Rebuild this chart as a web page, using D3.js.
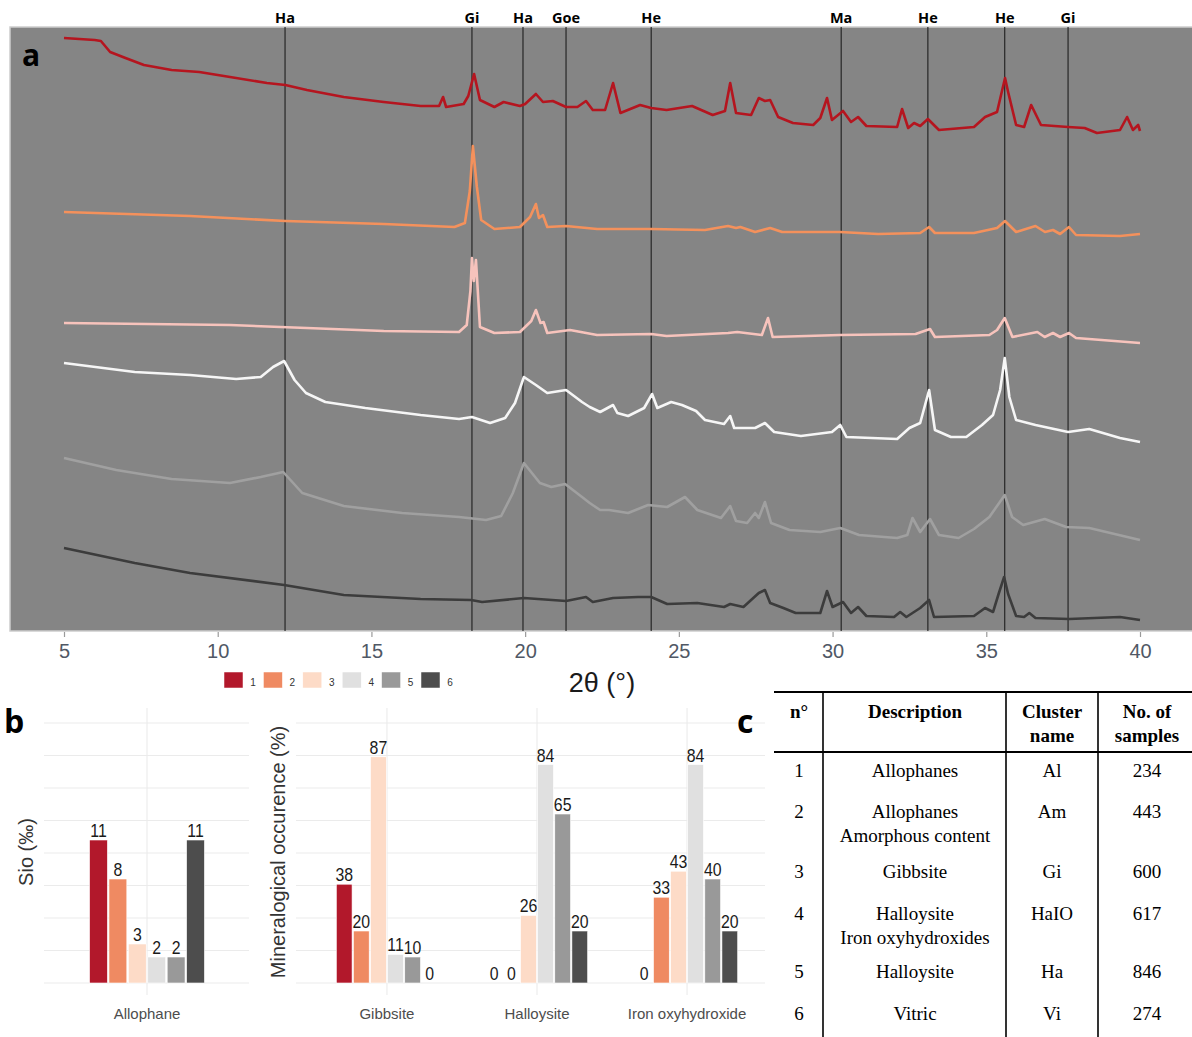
<!DOCTYPE html>
<html><head><meta charset="utf-8">
<script src="https://cdn.jsdelivr.net/npm/d3@7"></script>
<style>
body{margin:0;background:#fff;}
svg{display:block;}
</style></head>
<body>
<svg id="fig" width="1192" height="1037"></svg>
<script>
// ---------------- DATA ----------------
const clusters = ["1","2","3","4","5","6"];
const clusterColors = ["#b2182b","#ef8a62","#fddbc7","#e0e0e0","#999999","#4d4d4d"];
const lineColors = ["#b5151f","#f4915c","#f7c3bc","#f6f6f6","#a0a0a0","#3c3c3c"];

const thetaTicks = [5,10,15,20,25,30,35,40];
const markerLabels = ["Ha","Gi","Ha","Goe","He","Ma","He","He","Gi"];
const markerTheta = [12.19,18.27,19.93,21.33,24.1,30.28,33.1,35.6,37.66];

// XRD patterns: [2theta, stacked intensity (a.u.)]
const xrd1 = [[5.0,593],[5.5,592],[6.0,591],[6.2,590],[6.5,579],[7.0,573],[7.6,566],[8.5,561],[9.4,559],[10.4,554],[11.6,548],[12.2,546],[12.9,541],[14.1,534],[15.4,529],[16.6,525],[17.2,525],[17.33,534],[17.43,524],[18.0,527],[18.15,535],[18.34,557],[18.53,531],[19.0,524],[19.3,529],[19.83,525],[20.0,527],[20.35,537],[20.58,529],[20.9,530],[21.33,524],[21.7,524],[21.98,530],[22.2,521],[22.6,521],[22.86,548],[23.1,518],[23.74,526],[24.1,523],[24.6,521],[25.43,525],[26.1,516],[26.5,520],[26.67,548],[26.86,518],[27.35,516],[27.6,533],[27.8,530],[27.97,531],[28.23,514],[28.71,508],[29.37,506],[29.6,513],[29.82,533],[29.98,511],[30.34,520],[30.6,509],[30.83,514],[31.1,505],[32.1,504],[32.26,522],[32.46,503],[32.65,508],[32.85,505],[33.1,512],[33.46,501],[34.6,504],[34.96,514],[35.35,519],[35.61,553],[35.71,539],[35.97,506],[36.23,504],[36.46,526],[36.78,506],[37.66,504],[38.2,503],[38.6,498],[39.35,501],[39.58,514],[39.77,501],[39.94,506],[40.0,500]];
const xrd2 = [[5.0,419],[9.1,415],[12.2,410],[15.4,407],[17.7,404],[18.04,408],[18.2,440],[18.3,485],[18.43,444],[18.57,411],[19.0,402],[19.83,404],[20.16,414],[20.35,427],[20.45,413],[20.58,416],[20.72,404],[21.33,405],[22.34,402],[24.1,402],[25.85,401],[26.6,405],[26.86,403],[27.0,404],[27.48,399],[27.97,403],[28.36,399],[30.24,399],[31.48,397],[32.85,398],[33.14,404],[33.33,398],[34.6,398],[35.35,403],[35.61,410],[35.97,399],[36.6,405],[36.91,399],[37.17,401],[37.4,397],[37.69,404],[37.92,396],[39.35,395],[40.0,397]];
const xrd3 = [[5.0,308],[10.4,306],[12.9,303],[15.4,300],[17.85,299],[18.1,306],[18.22,340],[18.27,373],[18.33,350],[18.4,371],[18.53,304],[19.0,298],[19.83,299],[20.2,310],[20.35,321],[20.5,308],[20.6,309],[20.72,298],[21.46,301],[22.34,296],[24.1,297],[24.6,295],[26.6,298],[26.9,299],[27.7,296],[27.9,313],[28.05,294],[30.24,296],[32.7,297],[33.17,302],[33.33,294],[35.1,296],[35.35,301],[35.6,313],[35.85,294],[36.66,299],[36.9,294],[37.17,298],[37.4,294],[37.69,298],[37.92,293],[40.0,288]];
const xrd4 = [[5.0,268],[7.3,259],[9.1,256],[10.6,252],[11.4,254],[11.8,264],[12.16,270],[12.5,251],[12.87,238],[13.5,229],[14.8,223],[16.6,216],[17.85,212],[18.27,214],[18.86,208],[19.35,213],[19.67,228],[19.96,254],[20.35,246],[20.72,238],[21.33,241],[21.85,229],[22.1,224],[22.44,219],[22.86,226],[23.0,218],[23.35,215],[23.87,223],[24.13,237],[24.3,223],[24.75,229],[25.1,226],[25.56,220],[25.85,211],[26.47,207],[26.67,215],[26.8,203],[27.48,203],[27.8,208],[28.1,199],[28.97,195],[29.98,199],[30.25,206],[30.45,194],[32.1,192],[32.5,203],[32.85,208],[33.14,241],[33.33,201],[33.85,194],[34.35,194],[34.86,206],[35.22,216],[35.45,241],[35.6,273],[35.75,234],[35.97,211],[36.6,206],[37.66,199],[38.35,202],[39.35,193],[40.0,189]];
const xrd5 = [[5.0,173],[6.7,161],[8.5,152],[10.4,148],[11.4,154],[12.13,159],[12.75,138],[14.1,125],[16.0,118],[17.85,114],[18.73,111],[19.22,115],[19.6,138],[19.96,168],[20.48,148],[20.85,144],[21.3,147],[21.85,134],[22.1,128],[22.44,121],[22.73,121],[23.35,118],[24.0,126],[24.62,124],[25.2,134],[25.6,121],[26.37,113],[26.67,125],[26.86,110],[27.22,108],[27.48,118],[27.6,113],[27.8,129],[28.0,108],[28.6,101],[29.6,99],[30.25,103],[30.86,96],[32.1,93],[32.43,96],[32.6,113],[32.85,99],[33.17,112],[33.46,96],[34.1,93],[34.6,102],[35.1,114],[35.6,136],[35.84,114],[36.2,106],[36.9,112],[37.6,104],[38.35,103],[40.0,91]];
const xrd6 = [[5.0,83],[7.3,68],[9.1,58],[12.16,46],[14.1,36],[16.6,32],[18.24,31],[18.6,29],[19.96,33],[21.33,30],[21.98,34],[22.2,29],[22.86,33],[23.67,34],[24.1,34],[24.62,27],[25.6,28],[26.47,24],[26.67,27],[27.1,24],[27.6,38],[27.8,41],[27.97,28],[28.4,23],[28.8,18],[29.6,18],[29.82,40],[30.0,24],[30.34,29],[30.6,18],[30.83,24],[31.1,15],[32.0,14],[32.2,19],[32.4,14],[32.85,23],[33.14,31],[33.3,14],[34.6,15],[34.96,23],[35.22,19],[35.4,37],[35.58,54],[35.71,37],[35.97,15],[36.23,14],[36.4,18],[36.6,13],[37.7,12],[39.35,14],[40.0,11]];
const xrdSeries = [xrd1,xrd2,xrd3,xrd4,xrd5,xrd6];

// Panel b
const sioCategory = ["Allophane"];
const sioValues = [11, 8, 3, 2, 2, 11];
const sioTicks = [0,2.5,5,7.5,10,12.5,15,17.5,20];
const minerals = ["Gibbsite","Halloysite","Iron oxyhydroxide"];
const gibbsite = [38, 20, 87, 11, 10, 0];
const halloysite = [0, 0, 26, 84, 65, 20];
const ironOxy = [0, 33, 43, 84, 40, 20];
const occTicks = [0,12.5,25,37.5,50,62.5,75,87.5,100];

// Panel c table
const tableHeader = [["n°"],["Description"],["Cluster","name"],["No. of","samples"]];
const tableNo = ["1","2","3","4","5","6"];
const tableDesc = [["Allophanes"],["Allophanes","Amorphous content"],["Gibbsite"],["Halloysite","Iron oxyhydroxides"],["Halloysite"],["Vitric"]];
const tableName = ["Al","Am","Gi","HaIO","Ha","Vi"];
const tableCount = ["234","443","600","617","846","274"];

// ---------------- DRAW ----------------
const svg = d3.select("#fig");
const sans = "'Liberation Sans', Arial, sans-serif";

// ===== Panel a =====
const x = d3.scaleLinear().domain([5,40]).range([64,1140]);
const y = d3.scaleLinear().domain([0,604]).range([631,27]);

svg.append("rect").attr("x",10).attr("y",27).attr("width",1190).attr("height",604)
  .attr("fill","#858585").attr("stroke","#cdcdcd").attr("stroke-width",1.5);

const gMark = svg.append("g");
markerTheta.forEach((t,i)=>{
  gMark.append("line").attr("x1",x(t)).attr("x2",x(t)).attr("y1",27).attr("y2",631)
    .attr("stroke","#1e1e1e").attr("stroke-width",1.1);
  gMark.append("text").attr("x",x(t)).attr("y",23).attr("text-anchor","middle")
    .attr("font-family","'Open Sans', sans-serif").attr("font-weight","bold").attr("font-size",14.5)
    .attr("fill","#000").text(markerLabels[i]);
});

const line = d3.line().x(d=>x(d[0])).y(d=>y(d[1]));
xrdSeries.forEach((s,i)=>{
  svg.append("path").attr("d",line(s)).attr("fill","none")
    .attr("stroke",lineColors[i]).attr("stroke-width",2.6).attr("stroke-linejoin","round");
});

const xAxis = svg.append("g").attr("transform","translate(0,632)")
  .call(d3.axisBottom(x).tickValues(thetaTicks).tickSize(5).tickPadding(7).tickFormat(d3.format("d")));
xAxis.select(".domain").remove();
xAxis.selectAll(".tick line").attr("stroke","#9a9a9a").attr("stroke-width",1.2);
xAxis.selectAll(".tick text").attr("font-family",sans).attr("font-size",20).attr("fill","#505865");

svg.append("text").attr("x",602).attr("y",692).attr("text-anchor","middle")
  .attr("font-family",sans).attr("font-size",27).attr("fill","#1a1a1a").text("2θ (°)");

svg.append("text").attr("x",22).attr("y",66).attr("font-family","'Open Sans', sans-serif")
  .attr("font-weight","bold").attr("font-size",30).attr("fill","#000").text("a");

// legend
const legX = d3.scalePoint().domain(clusters).range([224,421]);
const leg = svg.append("g");
clusters.forEach((c,i)=>{
  leg.append("rect").attr("x",legX(c)).attr("y",672).attr("width",19).attr("height",16)
    .attr("fill",clusterColors[i]).attr("stroke","#fff").attr("stroke-width",0.5);
  leg.append("text").attr("x",legX(c)+29).attr("y",685.5).attr("text-anchor","middle")
    .attr("font-family",sans).attr("font-size",10).attr("fill","#333").text(c);
});

// ===== Panel b =====
function barPanel(cats, groups, ticks, yDomain, xRange, padOuter, padInner, gridX0, gridX1) {
  const yS = d3.scaleLinear().domain(yDomain).range([996,710]);
  const g = svg.append("g");
  ticks.forEach(t=>{
    g.append("line").attr("x1",gridX0).attr("x2",gridX1).attr("y1",yS(t)).attr("y2",yS(t))
      .attr("stroke","#ebebeb").attr("stroke-width",1.1);
  });
  const xS = d3.scaleBand().domain(cats).range(xRange).paddingOuter(padOuter).paddingInner(padInner);
  const xSub = d3.scaleBand().domain(clusters).range([0,xS.bandwidth()]).padding(0.08);
  cats.forEach((c,ci)=>{
    const cx = xS(c)+xS.bandwidth()/2;
    g.append("line").attr("x1",cx).attr("x2",cx).attr("y1",708).attr("y2",995)
      .attr("stroke","#ebebeb").attr("stroke-width",1.1);
    g.append("text").attr("x",cx).attr("y",1019).attr("text-anchor","middle")
      .attr("font-family",sans).attr("font-size",15).attr("fill","#4d4d4d").text(c);
    const vals = groups[ci];
    clusters.forEach((k,ki)=>{
      const v = vals[ki];
      const bx = xS(c)+xSub(k);
      g.append("rect").attr("x",bx).attr("y",yS(v)).attr("width",xSub.bandwidth())
        .attr("height",yS(0)-yS(v)).attr("fill",clusterColors[ki])
        .attr("stroke","#ffffff").attr("stroke-width",0.6);
      g.append("text").attr("x",bx+xSub.bandwidth()/2).attr("y",yS(v)-3)
        .attr("text-anchor","middle").attr("font-family",sans)
        .attr("font-size",18).attr("fill","#1a1a1a")
        .attr("transform",`translate(${bx+xSub.bandwidth()/2},0) scale(0.88,1) translate(${-(bx+xSub.bandwidth()/2)},0)`)
        .text(v);
    });
  });
  return g;
}

barPanel(sioCategory, [sioValues], sioTicks, [-1,21], [44,250], 0.373, 0, 44, 249);
barPanel(minerals, [gibbsite, halloysite, ironOxy], occTicks, [-5,105], [312,762], 0.153, 0.3067, 296, 765);

svg.append("text").attr("transform","translate(33,852) rotate(-90)").attr("text-anchor","middle")
  .attr("font-family",sans).attr("font-size",20).attr("fill","#333").text("Sio (‰)");
svg.append("text").attr("transform","translate(285,852) rotate(-90)").attr("text-anchor","middle")
  .attr("font-family",sans).attr("font-size",20).attr("fill","#333").text("Mineralogical occurence (%)");

svg.append("text").attr("x",4).attr("y",733).attr("font-family","'Open Sans', sans-serif")
  .attr("font-weight","bold").attr("font-size",32).attr("fill","#000").text("b");
svg.append("text").attr("x",737).attr("y",733).attr("font-family","'Open Sans', sans-serif")
  .attr("font-weight","bold").attr("font-size",32).attr("fill","#000").text("c");

// ===== Panel c (table) =====
const serif = "'Liberation Serif', 'Times New Roman', serif";
const colCenters = [799, 915, 1052, 1147];
const rowBase = [777, 818, 878, 920, 978, 1020];
const t = svg.append("g");
t.append("line").attr("x1",774).attr("x2",1192).attr("y1",692).attr("y2",692).attr("stroke","#000").attr("stroke-width",2);
t.append("line").attr("x1",774).attr("x2",1192).attr("y1",752).attr("y2",752).attr("stroke","#000").attr("stroke-width",2.2);
[823,1006,1098].forEach(vx=>{
  t.append("line").attr("x1",vx).attr("x2",vx).attr("y1",692).attr("y2",1037).attr("stroke","#000").attr("stroke-width",1.6);
});
tableHeader.forEach((lines,ci)=>{
  lines.forEach((s,li)=>{
    t.append("text").attr("x",colCenters[ci]).attr("y",718+li*24).attr("text-anchor","middle")
      .attr("font-family",serif).attr("font-weight","bold").attr("font-size",19).attr("fill","#000").text(s);
  });
});
tableNo.forEach((n,ri)=>{
  const yb = rowBase[ri];
  t.append("text").attr("x",colCenters[0]).attr("y",yb).attr("text-anchor","middle")
    .attr("font-family",serif).attr("font-size",19).attr("fill","#000").text(n);
  tableDesc[ri].forEach((s,li)=>{
    t.append("text").attr("x",colCenters[1]).attr("y",yb+li*24).attr("text-anchor","middle")
      .attr("font-family",serif).attr("font-size",19).attr("fill","#000").text(s);
  });
  t.append("text").attr("x",colCenters[2]).attr("y",yb).attr("text-anchor","middle")
    .attr("font-family",serif).attr("font-size",19).attr("fill","#000").text(tableName[ri]);
  t.append("text").attr("x",colCenters[3]).attr("y",yb).attr("text-anchor","middle")
    .attr("font-family",serif).attr("font-size",19).attr("fill","#000").text(tableCount[ri]);
});
</script>
</body></html>
